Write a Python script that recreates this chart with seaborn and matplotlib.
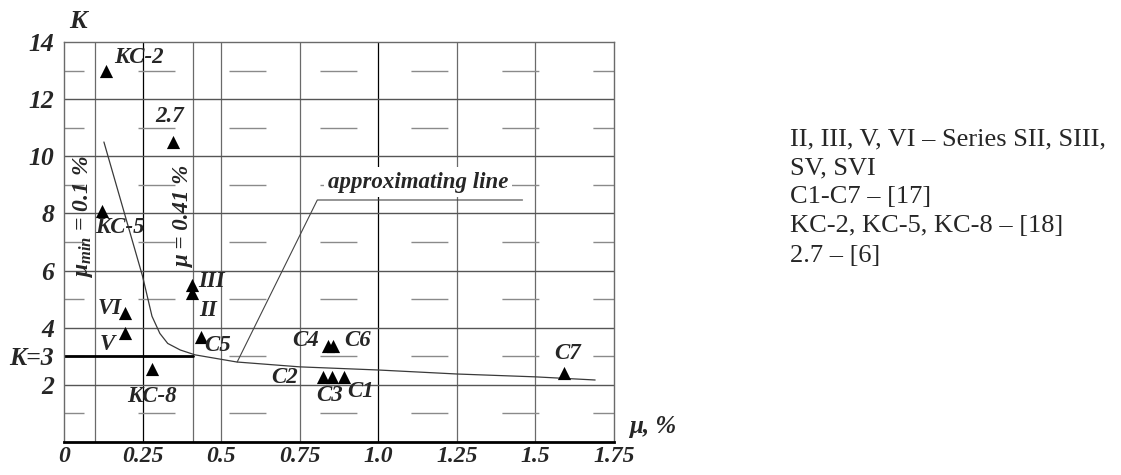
import matplotlib
matplotlib.use("Agg")
import matplotlib.pyplot as plt
import pandas as pd
import seaborn as sns

sns.set_style("white")
plt.rcParams['font.family'] = ['Liberation Serif', 'DejaVu Serif']
plt.rcParams['mathtext.fontset'] = 'custom'
plt.rcParams['mathtext.rm'] = 'Liberation Serif:bold'
plt.rcParams['mathtext.it'] = 'Liberation Serif:italic:bold'

# test points
point_names = ["KC-2", "2.7", "KC-5", "III", "II", "VI", "V", "C5", "KC-8",
               "C4", "C6", "C2", "C3", "C1", "C7"]
point_mu = [0.134, 0.348, 0.122, 0.406, 0.406, 0.194, 0.194, 0.436, 0.28,
            0.84, 0.857, 0.825, 0.853, 0.892, 1.59]
point_k = [13.0, 10.5, 8.1, 5.5, 5.2, 4.5, 3.8, 3.67, 2.55,
           3.36, 3.36, 2.27, 2.27, 2.27, 2.41]
# label offsets from the marker, in pixels (x right, y up)
label_dx = [33, -4, 18, 20, 16, -15, -18, 17, 0, -22, 24, -39, -2, 16, 4]
label_dy = [13, 25, -17, 3, -17, 5, -11, -8, -27, 6, 6, 0, -18, -14, 20]

# approximating line
curve_mu = [0.127, 0.25, 0.28, 0.305, 0.33, 0.37, 0.417, 0.55, 0.75, 1.0, 1.25, 1.5, 1.69]
curve_k = [10.5, 5.8, 4.4, 3.8, 3.45, 3.22, 3.05, 2.8, 2.63, 2.52, 2.38, 2.28, 2.17]

x_ticks = [0, 0.25, 0.5, 0.75, 1.0, 1.25, 1.5, 1.75]
x_labels = ["0", "0.25", "0.5", "0.75", "1.0", "1.25", "1.5", "1.75"]
y_ticks = [2, 3, 4, 6, 8, 10, 12, 14]
y_labels = ["2", "K=3", "4", "6", "8", "10", "12", "14"]

mu_min = 0.1
mu_lim = 0.41
k_lim = 3

notes = ("II, III, V, VI \u2013 Series SII, SIII,\nSV, SVI\nC1-C7 \u2013 [17]\n"
         "KC-2, KC-5, KC-8 \u2013 [18]\n2.7 \u2013 [6]")

pts = pd.DataFrame({"mu": point_mu, "K": point_k, "name": point_names})
crv = pd.DataFrame({"mu": curve_mu, "K": curve_k})

fig = plt.figure(figsize=(11.21, 4.75), dpi=100)
ax = fig.add_axes([64 / 1121, 33 / 475, 550 / 1121, 400 / 475])
ax.set_xlim(0, 1.75)
ax.set_ylim(0, 14)

# grid
for x in [0.25, 0.5, 0.75, 1.0, 1.25, 1.5]:
    c = 'black' if x in (0.25, 1.0) else '#6a6a6a'
    ax.axvline(x, color=c, lw=0.9, zorder=1)
for x in [mu_min, mu_lim]:
    ax.axvline(x, color='#6a6a6a', lw=0.9, zorder=1)
for y in range(2, 14, 2):
    ax.axhline(y, color='#555555', lw=1.0, zorder=1)
for y in range(1, 14, 2):
    ax.axhline(y, color='#8a8a8a', lw=1.0, zorder=1, linestyle=(12.2, (26.6, 38.9)))
ax.plot([0, mu_lim], [k_lim, k_lim], color='black', lw=2.0, zorder=2)

sns.lineplot(data=crv, x="mu", y="K", sort=False, color='#3a3a3a', lw=0.9, ax=ax, zorder=3)
sns.scatterplot(data=pts, x="mu", y="K", marker='^', s=90, color='black',
                edgecolor='black', linewidth=0, ax=ax, zorder=4, legend=False)

txt = dict(style='italic', weight='bold')
for name, m, k, dx, dy in zip(point_names, point_mu, point_k, label_dx, label_dy):
    ax.annotate(name, (m, k), xytext=(dx * 0.72, dy * 0.72), textcoords='offset points',
                ha='center', va='center', fontsize=16.5, zorder=5, **txt)

# approximating line callout
ax.plot([0.551, 0.806, 1.459], [2.8, 8.47, 8.47], color='#444444', lw=0.8, zorder=3)
ax.text(1.126, 9.1, "approximating line", ha='center', va='center', fontsize=16.5,
        zorder=5, bbox=dict(facecolor='white', edgecolor='none', pad=3), **txt)

ax.text(0.061, 7.9, r"$\mu_{min}$ = 0.1 %", rotation=90, ha='center', va='center',
        fontsize=17, zorder=5, **txt)
ax.text(0.381, 7.9, "\u03bc = 0.41 %", rotation=90, ha='center', va='center',
        fontsize=16.5, zorder=5, **txt)

ax.set_xticks(x_ticks)
ax.set_xticklabels(x_labels, fontsize=17, **txt)
ax.set_yticks(y_ticks)
ax.set_yticklabels(y_labels, fontsize=18.5, **txt)
ax.tick_params(length=0, pad=7)
ax.tick_params(axis='x', pad=3)
ax.set_xlabel("")
ax.set_ylabel("")

for side in ['top', 'right', 'left']:
    ax.spines[side].set_color('#6a6a6a')
    ax.spines[side].set_linewidth(1.0)
ax.spines['bottom'].set_color('black')
ax.spines['bottom'].set_linewidth(2.0)

fig.text(78 / 1121, 1 - 22 / 475, "K", ha='center', va='center', fontsize=19, **txt)
fig.text(653 / 1121, 1 - 427 / 475, "\u03bc, %", ha='center', va='center', fontsize=18,
         **txt)
fig.text(790 / 1121, 1 - 128 / 475, notes, ha='left', va='top', fontsize=19,
         linespacing=1.42)

fig.savefig("out.png", dpi=100)
